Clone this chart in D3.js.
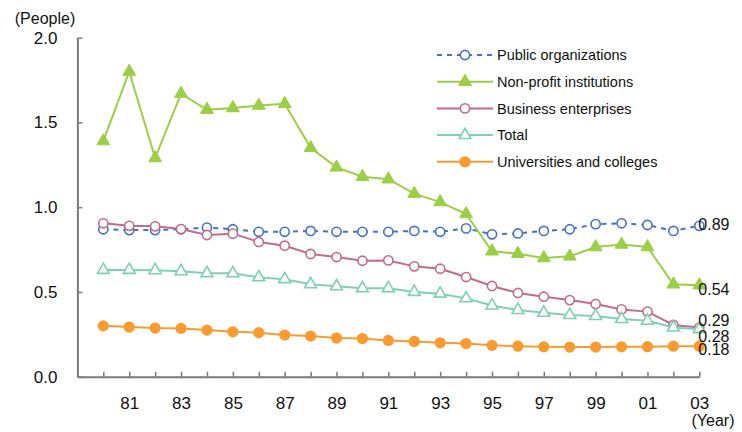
<!DOCTYPE html>
<html>
<head>
<meta charset="utf-8">
<script src="https://cdn.jsdelivr.net/npm/d3@7"></script>
<style>
  body { margin: 0; background: #fff; }
  svg { font-family: Arial, "Liberation Sans", sans-serif; }
</style>
</head>
<body>
<div id="chart"></div>
<script>
// Data (people, by year)
var years = [1980, 1981, 1982, 1983, 1984, 1985, 1986, 1987, 1988, 1989, 1990, 1991,
             1992, 1993, 1994, 1995, 1996, 1997, 1998, 1999, 2000, 2001, 2002, 2003];
var publicOrgs = [0.87, 0.865, 0.865, 0.87, 0.88, 0.87, 0.855, 0.855, 0.86, 0.855, 0.855, 0.855,
                  0.86, 0.855, 0.875, 0.84, 0.845, 0.86, 0.87, 0.90, 0.905, 0.895, 0.86, 0.89];
var nonProfit = [1.39, 1.80, 1.29, 1.67, 1.575, 1.585, 1.60, 1.61, 1.35, 1.235, 1.18, 1.165,
                 1.08, 1.03, 0.96, 0.74, 0.725, 0.70, 0.71, 0.765, 0.78, 0.765, 0.545, 0.54];
var business = [0.905, 0.89, 0.887, 0.871, 0.836, 0.844, 0.795, 0.773, 0.724, 0.706, 0.684, 0.686,
                0.651, 0.637, 0.588, 0.535, 0.494, 0.472, 0.452, 0.429, 0.397, 0.384, 0.305, 0.29];
var total = [0.63, 0.63, 0.628, 0.622, 0.61, 0.61, 0.586, 0.575, 0.545, 0.533, 0.522, 0.522,
             0.50, 0.49, 0.462, 0.42, 0.393, 0.377, 0.364, 0.358, 0.34, 0.33, 0.29, 0.28];
var universities = [0.30, 0.293, 0.287, 0.285, 0.275, 0.265, 0.26, 0.246, 0.24, 0.228, 0.225, 0.214,
                    0.208, 0.20, 0.196, 0.185, 0.18, 0.176, 0.175, 0.175, 0.176, 0.177, 0.18, 0.18];
var seriesNames = ["Public organizations", "Non-profit institutions", "Business enterprises",
                   "Total", "Universities and colleges"];
var endLabels = ["0.89", "0.54", "0.29", "0.28", "0.18"];
var yTicks = [0, 0.5, 1.0, 1.5, 2.0];

var width = 742, height = 432;

var svg = d3.select("#chart").append("svg")
    .attr("width", width)
    .attr("height", height);

// scales: 1979 is the left edge of the plot (axis corner)
var x = d3.scaleLinear().domain([1979, 2003]).range([77.4, 699.3]);
var y = d3.scaleLinear().domain([0, 2]).range([376.7, 37.7]);

var axisColor = "#7a7a7a";

// series styles
var series = [
    {name: seriesNames[0], values: publicOrgs, color: "#4472c4", dash: "5,5", marker: "circle", fill: "#fff", r: 4.6, labelDy: -2},
    {name: seriesNames[1], values: nonProfit, color: "#9bcf45", dash: null, marker: "triangle", fill: "#9bcf45", r: 6.5, labelDy: 4},
    {name: seriesNames[2], values: business, color: "#c06c8c", dash: null, marker: "circle", fill: "#fff", r: 4.6, labelDy: -7},
    {name: seriesNames[3], values: total, color: "#7fd0b2", dash: null, marker: "triangle", fill: "#fff", r: 6, labelDy: 6.5},
    {name: seriesNames[4], values: universities, color: "#f99b2f", dash: null, marker: "dot", fill: "#f99b2f", r: 5.6, labelDy: 3.5}
];

function drawMarker(g, s, cx, cy) {
    if (s.marker == "triangle") {
        var sym = d3.symbol().type(d3.symbolTriangle).size(s.r * s.r * 1.7);
        g.append("path")
            .attr("d", sym())
            .attr("transform", "translate(" + cx + "," + cy + ")")
            .attr("fill", s.fill)
            .attr("stroke", s.color)
            .attr("stroke-width", s.fill == "#fff" ? 1.6 : 1);
    } else {
        g.append("circle")
            .attr("cx", cx)
            .attr("cy", cy)
            .attr("r", s.r)
            .attr("fill", s.fill)
            .attr("stroke", s.color)
            .attr("stroke-width", s.marker == "dot" ? 0 : 1.6);
    }
}

// y axis
var yAxis = d3.axisLeft(y)
    .tickValues(yTicks)
    .tickSizeInner(-5)
    .tickSizeOuter(0)
    .tickPadding(20)
    .tickFormat(d3.format(".1f"));

var yG = svg.append("g")
    .attr("transform", "translate(" + x(1979) + ",0)")
    .call(yAxis);
yG.select(".domain").attr("stroke", axisColor).attr("stroke-width", 2);
yG.selectAll(".tick line").attr("stroke", axisColor).attr("stroke-width", 1.5);
yG.selectAll(".tick text").attr("font-size", 17).attr("fill", "#111")
    .attr("font-family", "Arial, 'Liberation Sans', sans-serif");

// x axis
var xAxis = d3.axisBottom(x)
    .tickValues(years)
    .tickSizeInner(-5)
    .tickSizeOuter(0)
    .tickPadding(20)
    .tickFormat(function (d) {
        return d % 2 == 1 ? d3.format("02d")(d % 100) : "";
    });

var xG = svg.append("g")
    .attr("transform", "translate(0," + y(0) + ")")
    .call(xAxis);
xG.select(".domain").attr("stroke", axisColor).attr("stroke-width", 2);
xG.selectAll(".tick line").attr("stroke", axisColor).attr("stroke-width", 1.5);
xG.selectAll(".tick text").attr("font-size", 17).attr("fill", "#111")
    .attr("font-family", "Arial, 'Liberation Sans', sans-serif");

// axis titles
svg.append("text")
    .attr("x", 45)
    .attr("y", 24)
    .attr("text-anchor", "middle")
    .attr("font-size", 16)
    .attr("fill", "#111")
    .text("(People)");

svg.append("text")
    .attr("x", 713)
    .attr("y", 426)
    .attr("text-anchor", "middle")
    .attr("font-size", 16)
    .attr("fill", "#111")
    .text("(Year)");

// lines + markers
var line = d3.line()
    .x(function (d, i) { return x(years[i]); })
    .y(function (d) { return y(d); });

series.forEach(function (s) {
    var g = svg.append("g").attr("class", "series");
    g.append("path")
        .datum(s.values)
        .attr("d", line)
        .attr("fill", "none")
        .attr("stroke", s.color)
        .attr("stroke-width", 2)
        .attr("stroke-dasharray", s.dash);
    s.values.forEach(function (v, i) {
        drawMarker(g, s, x(years[i]), y(v));
    });
});

// end-of-line value labels
series.forEach(function (s, i) {
    var last = s.values[s.values.length - 1];
    svg.append("text")
        .attr("x", x(2003) - 1)
        .attr("y", y(last) + s.labelDy)
        .attr("dy", "0.36em")
        .attr("font-size", 16)
        .attr("fill", "#111")
        .text(endLabels[i]);
});

// legend
var legend = svg.append("g").attr("class", "legend");
series.forEach(function (s, i) {
    var ly = 55 + i * 26.7;
    legend.append("line")
        .attr("x1", 437).attr("x2", 493)
        .attr("y1", ly).attr("y2", ly)
        .attr("stroke", s.color)
        .attr("stroke-width", 2)
        .attr("stroke-dasharray", s.dash);
    drawMarker(legend, s, 465, ly);
    legend.append("text")
        .attr("x", 497)
        .attr("y", ly)
        .attr("dy", "0.36em")
        .attr("font-size", 14.5)
        .attr("fill", "#111")
        .text(s.name);
});
</script>
</body>
</html>
